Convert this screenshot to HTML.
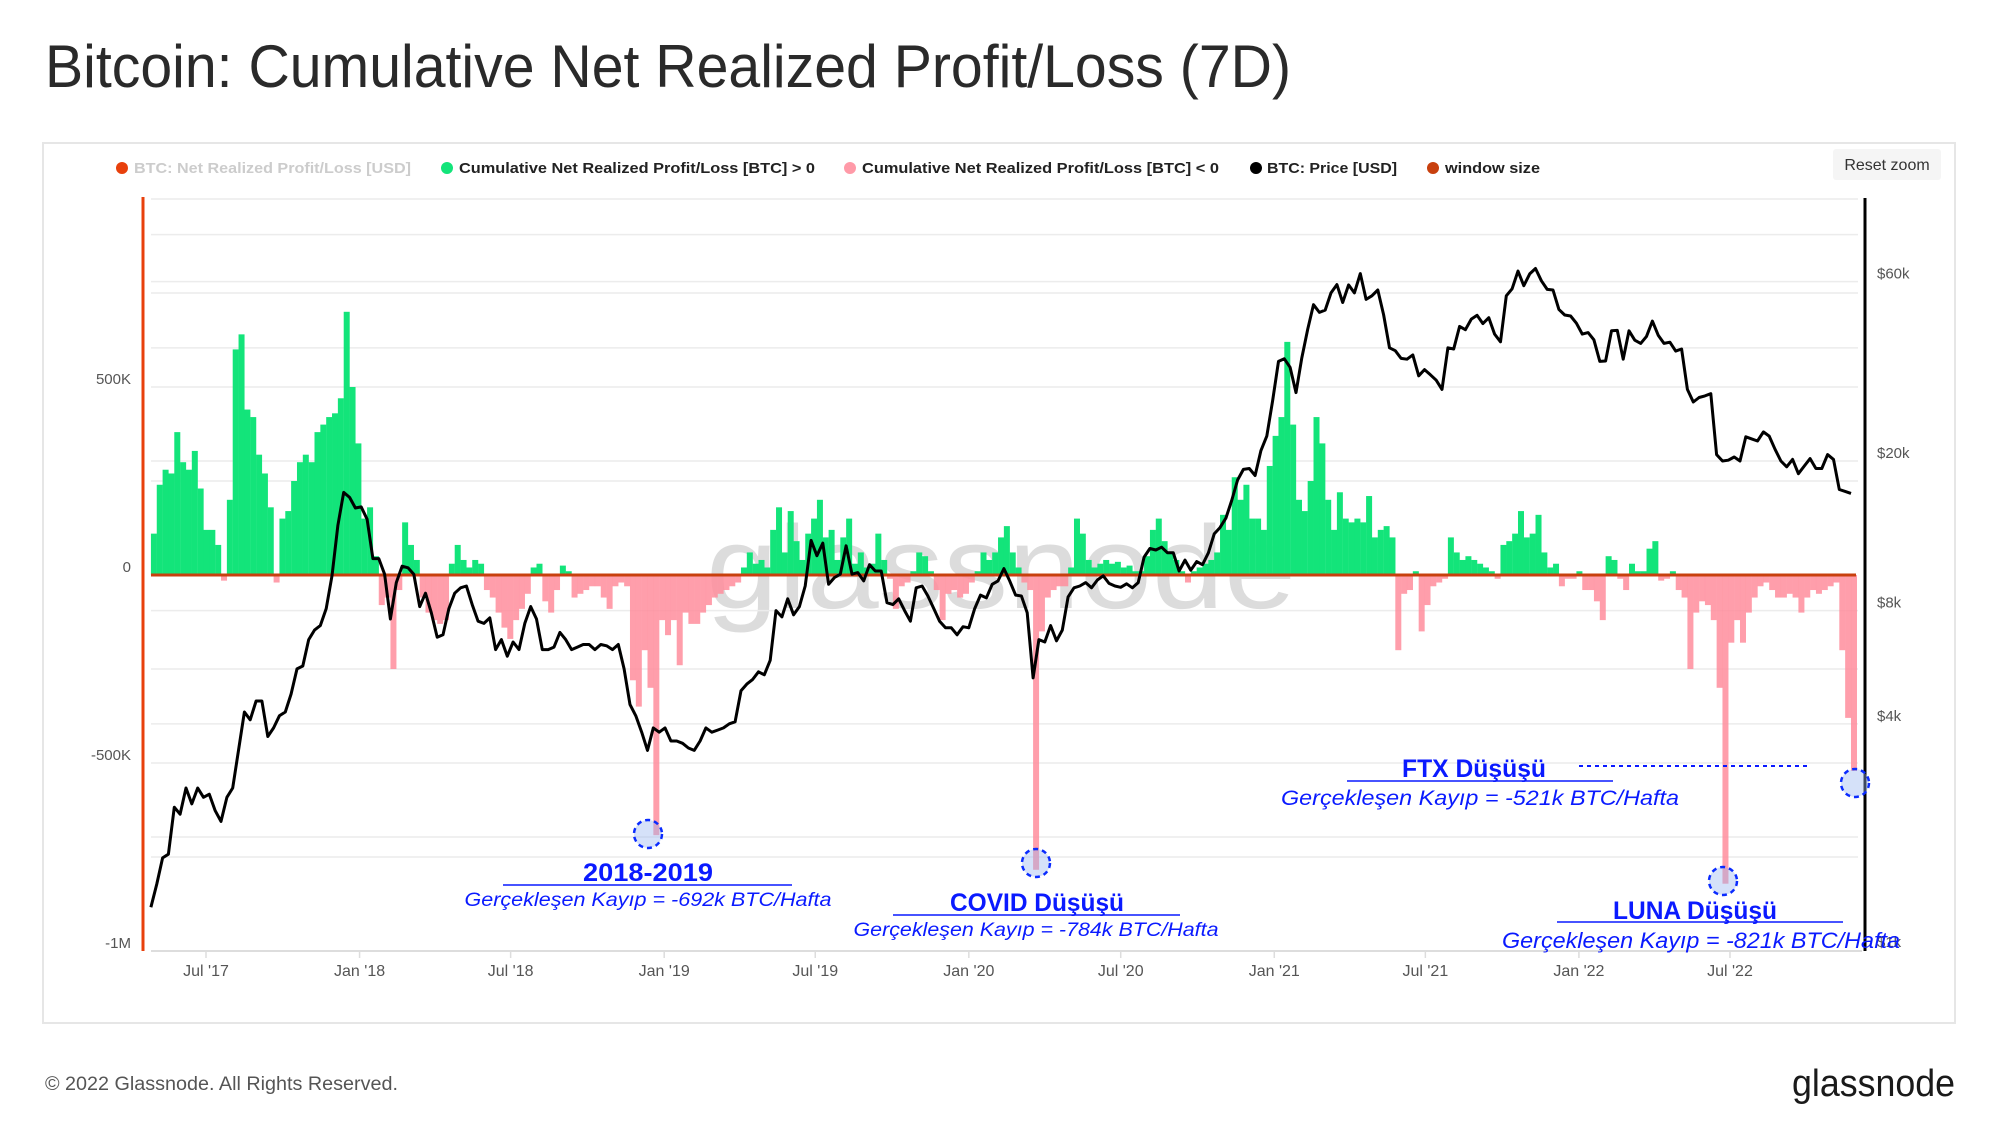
<!DOCTYPE html>
<html><head><meta charset="utf-8"><style>
html,body{margin:0;padding:0;background:#fff;}
svg{display:block;font-family:"Liberation Sans",sans-serif;}
</style></head><body>
<svg id="chart" width="2000" height="1137" viewBox="0 0 2000 1137" xmlns="http://www.w3.org/2000/svg">
<text x="45" y="87" font-size="60" fill="#2a2a2a" textLength="1246" lengthAdjust="spacingAndGlyphs">Bitcoin: Cumulative Net Realized Profit/Loss (7D)</text>
<rect x="43" y="143" width="1912" height="880" fill="#fff" stroke="#e6e6e6" stroke-width="2"/>
<g font-size="15" font-weight="bold">
 <g><circle cx="122" cy="168" r="6" fill="#e8400c"/><text x="134" y="173" fill="#ccc" textLength="277" lengthAdjust="spacingAndGlyphs">BTC: Net Realized Profit/Loss [USD]</text></g>
 <g><circle cx="447" cy="168" r="6" fill="#13e47a"/><text x="459" y="173" fill="#222" textLength="356" lengthAdjust="spacingAndGlyphs">Cumulative Net Realized Profit/Loss [BTC] &gt; 0</text></g>
 <g><circle cx="850" cy="168" r="6" fill="#ff9aa8"/><text x="862" y="173" fill="#222" textLength="357" lengthAdjust="spacingAndGlyphs">Cumulative Net Realized Profit/Loss [BTC] &lt; 0</text></g>
 <g><circle cx="1256" cy="168" r="6" fill="#000"/><text x="1267" y="173" fill="#222" textLength="130" lengthAdjust="spacingAndGlyphs">BTC: Price [USD]</text></g>
 <g><circle cx="1433" cy="168" r="6" fill="#c8400e"/><text x="1445" y="173" fill="#222" textLength="95" lengthAdjust="spacingAndGlyphs">window size</text></g>
</g>
<g><rect x="1833" y="149" width="108" height="31" rx="3" fill="#f5f5f5"/><text x="1887" y="170" font-size="16" fill="#333" text-anchor="middle">Reset zoom</text></g>
<text x="1001" y="608" font-size="118" fill="#d9d9d9" text-anchor="middle" textLength="590" lengthAdjust="spacingAndGlyphs" opacity="0.9">glassnode</text>
<g id="grid"></g><g id="bars"></g><g id="zero"></g><g id="price"></g><g id="axes"></g><g id="annot"></g>
<text x="45" y="1090" font-size="19" fill="#555" textLength="353" lengthAdjust="spacingAndGlyphs">© 2022 Glassnode. All Rights Reserved.</text>
<text x="1955" y="1096" font-size="38" fill="#1a1a1a" text-anchor="end" textLength="163" lengthAdjust="spacingAndGlyphs">glassnode</text>
</svg>
<script>
// weekly values starting 2017-04-26 (thousand BTC)
var plValues=[110,240,280,270,380,300,280,330,230,120,120,80,-15,200,600,640,440,420,320,270,180,-20,150,170,250,300,320,300,380,400,420,430,470,700,500,350,150,180,50,-80,-60,-250,-40,140,80,40,-60,-100,-120,-130,-120,30,80,40,20,40,30,-40,-60,-100,-140,-170,-120,-90,-50,20,30,-70,-100,-40,25,10,-60,-50,-40,-30,-30,-60,-90,-30,-20,-30,-280,-350,-200,-300,-692,-120,-160,-120,-240,-100,-130,-130,-100,-80,-60,-50,-40,-30,-20,20,60,30,
40,20,120,180,60,170,90,40,110,150,200,100,120,40,100,150,30,60,20,30,110,40,-10,-90,-30,-20,10,60,50,10,-40,-120,-50,-40,-60,-50,-20,10,60,40,60,100,130,60,20,-20,-40,-784,-150,-60,-40,-30,-30,20,150,110,40,20,30,40,30,35,20,25,10,10,50,120,150,90,60,40,10,-20,10,20,30,40,60,160,120,260,200,240,150,150,120,290,370,420,620,400,200,170,250,420,350,200,120,220,150,140,150,140,210,100,120,130,100,
-200,-50,-40,10,-150,-80,-30,-20,-10,100,60,40,50,40,30,20,10,-10,80,90,110,170,100,110,160,60,20,30,-30,-10,-10,10,-40,-40,-70,-120,50,40,-10,-40,30,10,10,70,90,-15,-10,10,-40,-60,-250,-100,-70,-80,-120,-300,-821,-180,-120,-180,-100,-60,-30,-20,-40,-60,-60,-50,-60,-100,-60,-40,-50,-40,-30,-20,-200,-380,-521];
var priceValues=[1300,1500,1760,1800,2400,2300,2700,2450,2700,2550,2600,2350,2200,2550,2700,3400,4300,4100,4600,4600,3700,3900,4200,4300,4800,5600,5700,6700,7100,7300,8100,9900,13500,16500,16000,15000,
15100,14000,11000,11000,10000,7600,9500,10500,10400,10000,8200,8900,7900,6800,6900,8100,8900,9200,9300,8300,7500,7400,7650,6300,6700,6050,6600,6300,7400,8200,7600,6300,6300,6400,7000,6700,6300,6400,6500,6500,6300,6500,6450,6300,6500,5600,4500,4200,3800,3400,3900,3800,
3900,3600,3600,3550,3450,3400,3600,3900,3800,3850,3900,4000,4050,4900,5100,5250,5500,5400,5900,8000,7700,8600,7800,8200,9300,12300,11200,12100,9400,9800,10000,11900,10000,10100,9600,10600,10200,10200,8400,8300,8600,8000,7500,9200,9300,8750,8100,7500,7200,7200,6900,7250,
7200,8100,8800,8650,9400,9600,10350,9600,8800,8750,7900,5300,6700,6600,7300,6650,7100,8700,9200,9300,9500,9200,9650,9900,9450,9300,9230,9430,9200,9500,11100,11700,11600,11800,11400,11400,10200,10900,10250,10800,10600,11400,12800,13300,14100,15700,17800,19000,19100,18300,21300,23300,28900,
36800,37400,35500,30400,37600,44800,52100,49700,50400,56000,58900,52800,58800,56000,63000,53800,55000,57000,49000,40000,39300,37500,37300,38300,33700,35000,33900,32800,31000,40000,39700,45600,44700,47700,48800,46400,48100,43500,41500,55000,57400,64000,58500,62900,65000,60300,57200,57000,50600,48900,48600,46500,
43500,43900,42000,36800,36900,44400,44500,37300,44400,41900,41100,42900,47100,43200,41100,41400,39200,39700,31000,28700,29500,29800,30200,20800,20000,20100,20500,20000,23200,22900,22600,23900,23300,21500,20000,19300,20200,18500,19400,20300,19100,19100,20800,20200,16800,16600,16400];
var xTickLabels=["Jul '17","Jan '18","Jul '18","Jan '19","Jul '19","Jan '20","Jul '20","Jan '21","Jul '21","Jan '22","Jul '22"];
var xTickDays=[0,184,365,549,730,914,1096,1280,1461,1645,1826];
var leftTickLabels=["500K","0","-500K","-1M"];
var leftTickValues=[500,0,-500,-1000];
var rightTickLabels=["$60k","$20k","$8k","$4k","$1k"];
var rightTickValues=[60000,20000,8000,4000,1000];

var NS="http://www.w3.org/2000/svg";
var startDay=-66, PL=151, PR=1858;
function xDay(d){return 206+d*0.8346;}
function xIdx(i){return xDay(startDay+7*i);}
function yL(v){return 575-v*0.376;}
function yP(p){return 461-376*Math.log10(p/20000);}
function mk(tag,attrs,parent){var e=document.createElementNS(NS,tag);for(var k in attrs)e.setAttribute(k,attrs[k]);parent.appendChild(e);return e;}
var grid=document.getElementById('grid'),bars=document.getElementById('bars'),axes=document.getElementById('axes'),pr=document.getElementById('price'),zero=document.getElementById('zero');
// grid
[1000,750,500,250,-250,-500,-750].forEach(function(v){var l=mk('line',{x1:PL,x2:PR,y1:yL(v),y2:yL(v),stroke:'#ececec','stroke-width':1.5},grid);

});
[80000,60000,40000,20000,8000,4000,2000].forEach(function(v){var l=mk('line',{x1:PL,x2:PR,y1:yP(v),y2:yP(v),stroke:'#ececec','stroke-width':1.5},grid);

});
// bars
plValues.forEach(function(v,i){var x=xIdx(i),y=yL(v),z=yL(0);
var r=mk('rect',{x:x,y:Math.min(y,z),width:6,height:Math.abs(z-y),fill:v>=0?'#13e47a':'#ff8d9c','fill-opacity':v>=0?1:0.85},bars);

});
var zl=mk('line',{x1:PL,x2:PR-2,y1:yL(0),y2:yL(0),stroke:'#c8400e','stroke-width':3},zero);


// price
var d=priceValues.map(function(p,i){return (i?'L':'M')+xIdx(i).toFixed(1)+','+yP(p).toFixed(1);}).join('');
var pl=mk('path',{d:d,fill:'none',stroke:'#000','stroke-width':3,'stroke-linejoin':'round'},pr);


// axes
var la=mk('line',{x1:143,x2:143,y1:197,y2:951,stroke:'#e8400c','stroke-width':3},axes);


var ra=mk('line',{x1:1865,x2:1865,y1:198,y2:951,stroke:'#000','stroke-width':3},axes);


var xa=mk('line',{x1:PL,x2:1862,y1:951,y2:951,stroke:'#ddd','stroke-width':2},axes);


xTickLabels.forEach(function(t,i){var x=xDay(xTickDays[i]);
var tk=mk('line',{x1:x,x2:x,y1:951,y2:958,stroke:'#ddd','stroke-width':1.5},axes);


var tx=mk('text',{x:x,y:976,'font-size':16,fill:'#555','text-anchor':'middle'},axes);tx.textContent=t;

});
leftTickLabels.forEach(function(t,i){var tx=mk('text',{x:131,y:yL(leftTickValues[i])-3,'font-size':15,fill:'#555','text-anchor':'end'},axes);tx.textContent=t;

});
rightTickLabels.forEach(function(t,i){var tx=mk('text',{x:1877,y:yP(rightTickValues[i])-3,'font-size':15,fill:'#555'},axes);tx.textContent=t;

});
</script>
<svg width="0" height="0"></svg>
<script>
(function(){var NS="http://www.w3.org/2000/svg",g=document.getElementById('annot');
function mk(tag,attrs){var e=document.createElementNS(NS,tag);for(var k in attrs)e.setAttribute(k,attrs[k]);g.appendChild(e);return e;}
var items=[
 {n:'2018-2019',cx:648,cy:834,t:'2018-2019',tx:648,ty:881,tw:130,u1:503,u2:792,uy:885,s:'Gerçekleşen Kayıp = -692k BTC/Hafta',sx:648,sy:906,sw:367,fs:19},
 {n:'covid',cx:1036,cy:863,t:'COVID Düşüşü',tx:1037,ty:911,tw:174,u1:893,u2:1180,uy:915,s:'Gerçekleşen Kayıp = -784k BTC/Hafta',sx:1036,sy:936,sw:365,fs:19},
 {n:'ftx',cx:1855,cy:783,t:'FTX Düşüşü',tx:1474,ty:777,tw:144,u1:1347,u2:1613,uy:781,s:'Gerçekleşen Kayıp = -521k BTC/Hafta',sx:1480,sy:805,sw:398,fs:21},
 {n:'luna',cx:1723,cy:881,t:'LUNA Düşüşü',tx:1695,ty:919,tw:164,u1:1557,u2:1843,uy:922,s:'Gerçekleşen Kayıp = -821k BTC/Hafta',sx:1701,sy:948,sw:398,fs:22}];
items.forEach(function(a){
 var c=mk('ellipse',{cx:a.cx,cy:a.cy,rx:14,ry:14,fill:'rgba(150,180,240,0.4)',stroke:'#0a2bff','stroke-width':2.5,'stroke-dasharray':'5,4'});
 
 
 var u=mk('line',{x1:a.u1,x2:a.u2,y1:a.uy,y2:a.uy,stroke:'#0a1aff','stroke-width':1.5});
 
 
 var t=mk('text',{x:a.tx,y:a.ty,'font-size':25,'font-weight':'bold',fill:'#0a1aff','text-anchor':'middle',textLength:a.tw,lengthAdjust:'spacingAndGlyphs'});t.textContent=a.t;
 
 
 var s=mk('text',{x:a.sx,y:a.sy,'font-size':a.fs,'font-style':'italic',fill:'#0a1aff','text-anchor':'middle',textLength:a.sw,lengthAdjust:'spacingAndGlyphs'});s.textContent=a.s;
 
 
});
var dl=mk('line',{x1:1579,x2:1811,y1:766,y2:766,stroke:'#0a1aff','stroke-width':2,'stroke-dasharray':'4,4'});


document.getElementById('chart').appendChild(g);
})();
</script>
</body></html>
